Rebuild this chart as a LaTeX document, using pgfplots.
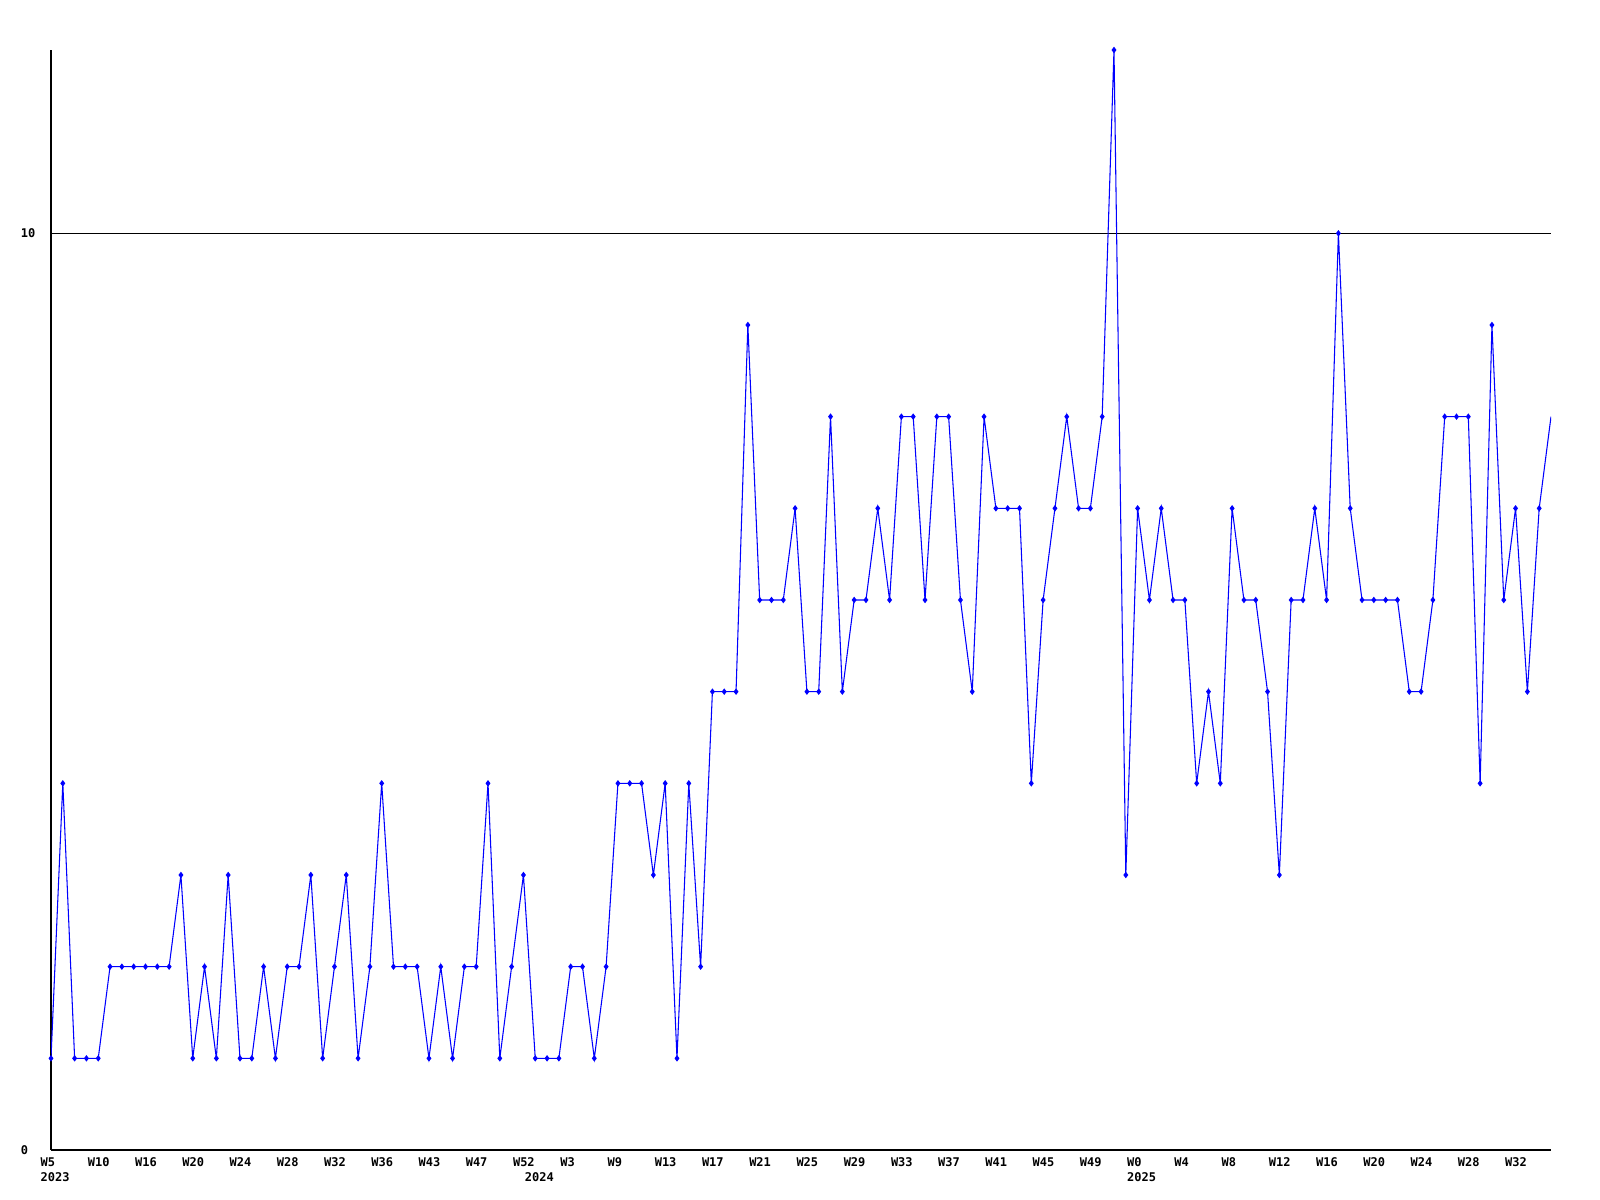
\documentclass[border=0pt]{standalone}
\usepackage{pgfplots}
\pgfplotsset{compat=1.18}
\usepackage{pgfplotstable}
\usepackage{fontspec}
\setmainfont{DejaVu Sans Mono}

\pgfplotstableread{
x y
0 1
1 4
2 1
3 1
4 1
5 2
6 2
7 2
8 2
9 2
10 2
11 3
12 1
13 2
14 1
15 3
16 1
17 1
18 2
19 1
20 2
21 2
22 3
23 1
24 2
25 3
26 1
27 2
28 4
29 2
30 2
31 2
32 1
33 2
34 1
35 2
36 2
37 4
38 1
39 2
40 3
41 1
42 1
43 1
44 2
45 2
46 1
47 2
48 4
49 4
50 4
51 3
52 4
53 1
54 4
55 2
56 5
57 5
58 5
59 9
60 6
61 6
62 6
63 7
64 5
65 5
66 8
67 5
68 6
69 6
70 7
71 6
72 8
73 8
74 6
75 8
76 8
77 6
78 5
79 8
80 7
81 7
82 7
83 4
84 6
85 7
86 8
87 7
88 7
89 8
90 12
91 3
92 7
93 6
94 7
95 6
96 6
97 4
98 5
99 4
100 7
101 6
102 6
103 5
104 3
105 6
106 6
107 7
108 6
109 10
110 7
111 6
112 6
113 6
114 6
115 5
116 5
117 6
118 8
119 8
120 8
121 4
122 9
123 6
124 7
125 5
126 7
127 8
}\data

\begin{document}
\begin{tikzpicture}
\useasboundingbox (0,0) rectangle (600pt,450pt);
\begin{axis}[
  at={(19.125pt,18.75pt)}, anchor=south west,
  scale only axis, width=562.5pt, height=412.5pt,
  xmin=0, xmax=127, ymin=0, ymax=12,
  axis x line*=bottom, axis y line*=left,
  axis line style={-, line width=0.5pt, black},
  xtick={0,4,...,124},
  xticklabels={W5,W10,W16,W20,W24,W28,W32,W36,W43,W47,W52,W3,W9,W13,W17,W21,W25,W29,W33,W37,W41,W45,W49,W0,W4,W8,W12,W16,W20,W24,W28,W32},
  ytick={0,10},
  major tick length=0pt,
  ymajorgrids, xmajorgrids=false,
  grid style={black, line width=0.4pt},
  tick label style={font=\fontsize{4.5}{5}\selectfont\bfseries, inner sep=0pt},
  /pgf/number format/assume math mode=true,
  yticklabel style={anchor=west, xshift=-11.5pt},
  xticklabel style={anchor=north west, xshift=-4.1pt, yshift=-2.8pt},
  extra x ticks={0,41,92},
  extra x tick labels={2023,2024,2025},
  extra x tick style={grid=none, xticklabel style={yshift=-5.4pt}},
  clip=true,
]
\addplot[blue, line width=0.4pt, no markers] table[x=x,y=y] {\data};
\addplot[blue, only marks, mark=diamond*, mark size=0.9pt,
  skip coords between index={127}{128}] table[x=x,y=y] {\data};
\end{axis}
\end{tikzpicture}
\end{document}
